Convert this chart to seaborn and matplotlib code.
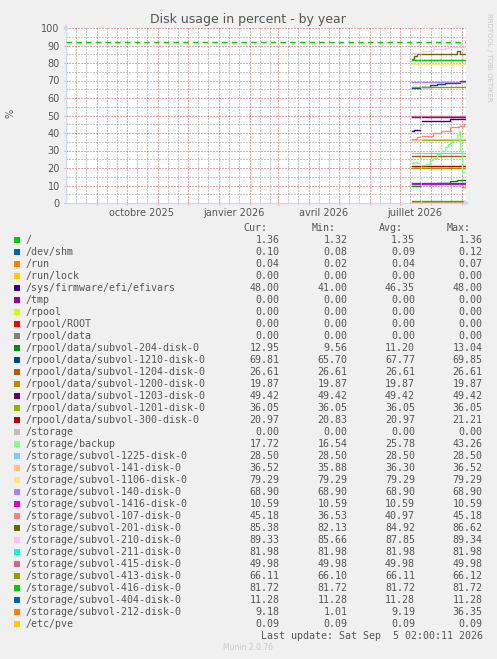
import numpy as np
import pandas as pd
import matplotlib
matplotlib.use("Agg")
import matplotlib.pyplot as plt
import matplotlib.dates as mdates
from matplotlib.ticker import MultipleLocator, NullFormatter
from matplotlib.patches import Rectangle
import seaborn as sns

W, H, DPI = 497, 659, 100

title = "Disk usage in percent - by year"
y_label = "%"
warning_level = 92

labels = [
    "/", "/dev/shm", "/run", "/run/lock", "/sys/firmware/efi/efivars", "/tmp",
    "/rpool", "/rpool/ROOT", "/rpool/data",
    "/rpool/data/subvol-204-disk-0", "/rpool/data/subvol-1210-disk-0",
    "/rpool/data/subvol-1204-disk-0", "/rpool/data/subvol-1200-disk-0",
    "/rpool/data/subvol-1203-disk-0", "/rpool/data/subvol-1201-disk-0",
    "/rpool/data/subvol-300-disk-0", "/storage", "/storage/backup",
    "/storage/subvol-1225-disk-0", "/storage/subvol-141-disk-0",
    "/storage/subvol-1106-disk-0", "/storage/subvol-140-disk-0",
    "/storage/subvol-1416-disk-0", "/storage/subvol-107-disk-0",
    "/storage/subvol-201-disk-0", "/storage/subvol-210-disk-0",
    "/storage/subvol-211-disk-0", "/storage/subvol-415-disk-0",
    "/storage/subvol-413-disk-0", "/storage/subvol-416-disk-0",
    "/storage/subvol-404-disk-0", "/storage/subvol-212-disk-0", "/etc/pve",
]
colors = [
    "#00CC00", "#0066B3", "#FF8000", "#FFCC00", "#330099", "#990099",
    "#CCFF00", "#FF0000", "#808080", "#008F00", "#00487D", "#B35A00",
    "#B38F00", "#6B006B", "#8FB300", "#B30000", "#BEBEBE", "#80FF80",
    "#80C9FF", "#FFC080", "#FFE680", "#AA80FF", "#EE00CC", "#FF8080",
    "#666600", "#FFBFFF", "#00FFCC", "#CC6699", "#999900", "#00CC00",
    "#0066B3", "#FF8000", "#FFCC00",
]
cur = [1.36, 0.10, 0.04, 0.00, 48.00, 0.00, 0.00, 0.00, 0.00, 12.95, 69.81,
       26.61, 19.87, 49.42, 36.05, 20.97, 0.00, 17.72, 28.50, 36.52, 79.29,
       68.90, 10.59, 45.18, 85.38, 89.33, 81.98, 49.98, 66.11, 81.72, 11.28,
       9.18, 0.09]
mins = [1.32, 0.08, 0.02, 0.00, 41.00, 0.00, 0.00, 0.00, 0.00, 9.56, 65.70,
        26.61, 19.87, 49.42, 36.05, 20.83, 0.00, 16.54, 28.50, 35.88, 79.29,
        68.90, 10.59, 36.53, 82.13, 85.66, 81.98, 49.98, 66.10, 81.72, 11.28,
        1.01, 0.09]
avgs = [1.35, 0.09, 0.04, 0.00, 46.35, 0.00, 0.00, 0.00, 0.00, 11.20, 67.77,
        26.61, 19.87, 49.42, 36.05, 20.97, 0.00, 25.78, 28.50, 36.30, 79.29,
        68.90, 10.59, 40.97, 84.92, 87.85, 81.98, 49.98, 66.11, 81.72, 11.28,
        9.19, 0.09]
maxs = [1.36, 0.12, 0.07, 0.00, 48.00, 0.00, 0.00, 0.00, 0.00, 13.04, 69.85,
        26.61, 19.87, 49.42, 36.05, 21.21, 0.00, 43.26, 28.50, 36.52, 79.29,
        68.90, 10.59, 45.18, 86.62, 89.34, 81.98, 49.98, 66.12, 81.72, 11.28,
        36.35, 0.09]

# sample dates (two data chunks, small gap in between)
seg_a_dates = ["2026-07-13", "2026-07-15", "2026-07-18"]
seg_a_end = "2026-07-21"
seg_b_dates = ["2026-07-23", "2026-07-27", "2026-07-31", "2026-08-03",
               "2026-08-07", "2026-08-11", "2026-08-15", "2026-08-18",
               "2026-08-20", "2026-08-23", "2026-08-27", "2026-08-29",
               "2026-08-30", "2026-09-01", "2026-09-03"]
seg_b_end = "2026-09-05 02:00"

nan = np.nan
efivars_vals = [41, 42, 42, 47, 47, 47, 47, 47, 47, 47, 47, 48, 48, 48, 48, 48, 48, 48]
sv204_vals = [9.6, 9.6, 9.6, 10.9, 10.9, 10.9, 10.9, 11.6, 11.6, 11.6, 11.6,
              12.4, 12.4, 12.95, 12.95, 12.95, 12.95, 12.95]
sv1210_vals = [65.7, 65.7, 65.7, 66.4, 66.4, 67.2, 67.2, 68.0, 68.0, 68.7, 68.7,
               68.7, 68.7, 68.7, 68.7, 69.81, 69.81, 69.81]
sv141_vals = [35.9, 35.9, 35.9, 36.3, 36.3, 36.3, 36.3, 36.3, 36.3, 36.3,
              36.52, 36.52, 36.52, 36.52, 36.52, 36.52, 36.52, 36.52]
backup_vals = [22.7, 23.6, 22.7, 21.5, 22.5, 24.5, 26.0, 28.0, 30.0, 32.0,
               33.5, 35.0, 36.5, 39.0, 41.0, 30.0, 17.7, 17.72]
sv107_vals = [36.53, 36.53, 37.5, 38.3, 38.3, 38.3, 39.8, 39.8, 41.1, 41.1,
              41.1, 43.2, 43.2, 43.2, 44.0, 44.0, 44.0, 45.18]
sv201_vals = [82.13, 83.8, 85.2, 85.2, 85.2, 85.2, 85.2, 85.2, 85.2, 85.2,
              85.2, 85.2, 85.2, 86.62, 86.62, 85.38, 85.38, 85.38]
sv210_vals = [85.66, 85.66, 85.66, 86.9, 86.9, 86.9, 87.8, 87.8, 87.8, 88.7,
              89.33, 89.33, 89.33, 89.33, 89.33, 89.33, 89.33, 89.33]
sv212_vals = [nan, nan, nan, nan, nan, nan, nan, nan, nan, nan, nan, nan, nan,
              nan, nan, nan, 9.18, 9.18]

varying = {
    "/sys/firmware/efi/efivars": efivars_vals,
    "/rpool/data/subvol-204-disk-0": sv204_vals,
    "/rpool/data/subvol-1210-disk-0": sv1210_vals,
    "/storage/subvol-141-disk-0": sv141_vals,
    "/storage/backup": backup_vals,
    "/storage/subvol-107-disk-0": sv107_vals,
    "/storage/subvol-201-disk-0": sv201_vals,
    "/storage/subvol-210-disk-0": sv210_vals,
    "/storage/subvol-212-disk-0": sv212_vals,
}

x_start = "2025-08-01 02:00"
x_end = "2026-09-05 02:00"
x_label_dates = ["2025-10-16", "2026-01-16", "2026-04-16", "2026-07-16"]
x_label_texts = ["octobre 2025", "janvier 2026", "avril 2026", "juillet 2026"]
last_update = "Last update: Sat Sep  5 02:00:11 2026"
footer = "Munin 2.0.76"
side_text = "RRDTOOL / TOBI OETIKER"

# ---- build long table ----
rows = []
na = len(seg_a_dates)
for name, c in zip(labels, cur):
    vals = varying.get(name, [c] * (na + len(seg_b_dates)))
    for seg, (dts, end, vv) in enumerate([(seg_a_dates, seg_a_end, vals[:na]),
                                          (seg_b_dates, seg_b_end, vals[na:])]):
        pts = [(d, v) for d, v in zip(dts, vv) if not np.isnan(v)]
        if not pts:
            continue
        pts.append((end, pts[-1][1]))
        for d, v in pts:
            rows.append({"date": pd.Timestamp(d), "value": v, "name": name,
                         "uid": f"{name}#{seg}"})
df = pd.DataFrame(rows)

# ---- figure ----
TXT = "#555555"
fig = plt.figure(figsize=(W / DPI, H / DPI), dpi=DPI, facecolor="#F0F0F0")
ax = fig.add_axes([66 / W, 1 - 203 / H, 400 / W, 175 / H])
ax.set_facecolor("white")
ax.set_axisbelow(True)

palette = dict(zip(labels, colors))
sns.lineplot(data=df, x="date", y="value", hue="name", units="uid",
             estimator=None, hue_order=labels, palette=palette,
             drawstyle="steps-post", linewidth=1.0, legend=False, ax=ax,
             sort=True)

ax.axhline(warning_level, color="#00CC00", linewidth=1.0,
           linestyle=(0, (4, 3)), zorder=3)

ax.set_xlim(pd.Timestamp(x_start), pd.Timestamp(x_end))
ax.set_ylim(0, 100)
ax.xaxis.set_major_locator(mdates.MonthLocator())
ax.xaxis.set_minor_locator(mdates.DayLocator(bymonthday=[11, 21]))
ax.xaxis.set_major_formatter(NullFormatter())
ax.xaxis.set_minor_formatter(NullFormatter())
ax.yaxis.set_major_locator(MultipleLocator(10))
ax.yaxis.set_minor_locator(MultipleLocator(5))
ax.set_xlabel("")
ax.set_ylabel("")

red = (0.87, 0.31, 0.31, 0.45)
gray = (0.56, 0.56, 0.56, 0.38)
ax.grid(which="major", color=red, linestyle=(0, (1, 2)), linewidth=0.72)
ax.grid(which="minor", color=gray, linestyle=(0, (1, 2)), linewidth=0.72)
ax.tick_params(axis="both", which="major", direction="inout", length=3,
               width=0.72, color=red, labelsize=7, labelcolor=TXT, pad=3)
ax.tick_params(axis="both", which="minor", direction="inout", length=2,
               width=0.72, color=gray)

for s in ["top", "right"]:
    ax.spines[s].set_visible(False)
for s in ["left", "bottom"]:
    ax.spines[s].set_color("#CFD6F8")
    ax.spines[s].set_linewidth(0.9)

ax.annotate("", xy=(0, 1.04), xytext=(0, 0.98), xycoords="axes fraction",
            arrowprops=dict(arrowstyle="-|>", color="#CFD6F8", lw=0.9,
                            mutation_scale=7), annotation_clip=False)
ax.annotate("", xy=(1.016, 0), xytext=(0.99, 0), xycoords="axes fraction",
            arrowprops=dict(arrowstyle="-|>", color="#CFD6F8", lw=0.9,
                            mutation_scale=7), annotation_clip=False)

blend = matplotlib.transforms.blended_transform_factory(ax.transData, ax.transAxes)
for d, t in zip(x_label_dates, x_label_texts):
    ax.text(mdates.date2num(pd.Timestamp(d)), -10 / 175, t, transform=blend,
            ha="center", va="center", fontsize=7, color=TXT)


def fx(x):
    return x / W


def fy(y):
    return 1 - y / H


fig.text(fx(248), fy(19), title, ha="center", va="center", fontsize=9, color=TXT)
fig.text(fx(10), fy(113), y_label, ha="center", va="center", fontsize=7,
         color=TXT, rotation=90)
fig.text(fx(489), fy(57), side_text, ha="center", va="center", fontsize=5,
         color="#C8C8C8", rotation=270)

MONO = dict(family="DejaVu Sans Mono", fontsize=7.2, color=TXT)
col_right = [279.3, 347.3, 415.0, 482.7]
for hdr, xr in zip(["Cur:", "Min:", "Avg:", "Max:"], col_right):
    fig.text(fx(xr - 12), fy(228), hdr, ha="right", va="center", **MONO)

for i, name in enumerate(labels):
    y = 240 + 12 * i
    fig.patches.append(Rectangle((fx(14), fy(y + 3)), 6 / W, 6 / H,
                                 transform=fig.transFigure, facecolor=colors[i],
                                 edgecolor="none"))
    fig.text(fx(26), fy(y), name, ha="left", va="center", **MONO)
    for vals, xr in zip([cur, mins, avgs, maxs], col_right):
        fig.text(fx(xr), fy(y), f"{vals[i]:.2f}", ha="right", va="center", **MONO)

fig.text(fx(482.7), fy(636), last_update, ha="right", va="center", **MONO)
fig.text(fx(248), fy(648), footer, ha="center", va="center", fontsize=5.5,
         color="#C8C8C8")

fig.savefig("out.png", dpi=DPI, facecolor=fig.get_facecolor())
